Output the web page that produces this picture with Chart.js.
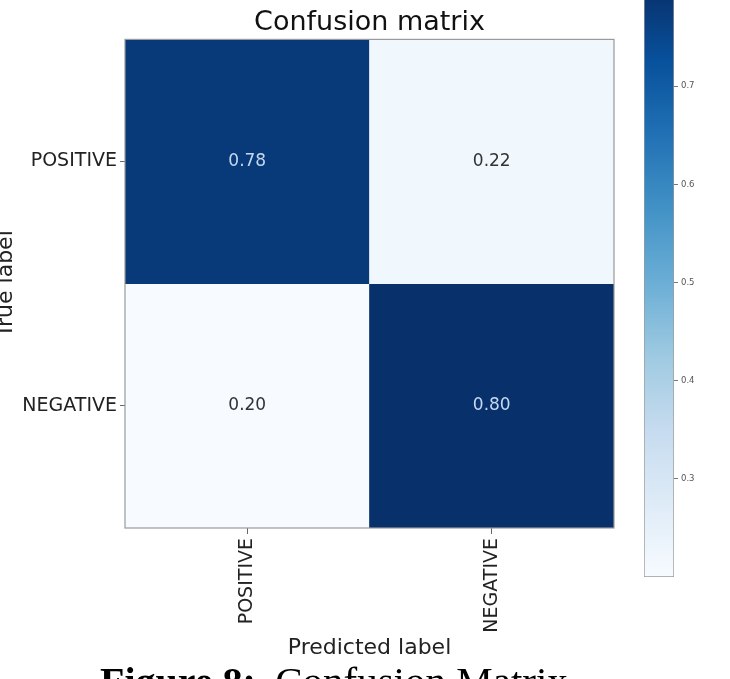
<!DOCTYPE html>
<html><head><meta charset="utf-8">
<script src="https://cdn.jsdelivr.net/npm/chart.js@4.4.1/dist/chart.umd.min.js"></script>
<style>
html,body{margin:0;padding:0;background:#fff;}
#fig{position:relative;width:730px;height:679px;overflow:hidden;background:#fff;}
#wrapM{position:absolute;left:0;top:0;width:630px;height:679px;}
#wrapC{position:absolute;left:640px;top:-20px;width:90px;height:605px;}
#caption{position:absolute;left:100px;top:661px;font-family:"Liberation Serif","Times New Roman",serif;font-size:40px;line-height:40px;white-space:nowrap;color:#000;}
#caption .rest{font-size:41px;margin-left:9px;}
</style></head><body>
<div id="fig">
<div id="wrapM"><canvas id="matrix"></canvas></div>
<div id="wrapC"><canvas id="cbar"></canvas></div>
<div id="caption"><b>Figure 8:</b><span class="rest"> Confusion Matrix</span></div>
</div>
<script>
// ---- data ----
const classes = ['POSITIVE', 'NEGATIVE'];
const rowPositive = [0.78, 0.22];   // true POSITIVE row
const rowNegative = [0.20, 0.80];   // true NEGATIVE row
const colorbarTicks = [0.3, 0.4, 0.5, 0.6, 0.7];
const colorMin = 0.20;
const colorMax = 0.80;

// ---- style ----
const blues = ['#f7fbff','#deebf7','#c6dbef','#9ecae1','#6baed6','#4292c6','#2171b5','#08519c','#08306b'];
Chart.defaults.font.family = '"DejaVu Sans", sans-serif';

function hexToRgb(h){ const n = parseInt(h.slice(1),16); return [(n>>16)&255,(n>>8)&255,n&255]; }
function cmap(t){
  t = Math.max(0, Math.min(1, t));
  const n = blues.length - 1;
  const i = Math.min(Math.floor(t*n), n-1);
  const f = t*n - i;
  const a = hexToRgb(blues[i]), b = hexToRgb(blues[i+1]);
  const c = a.map((v,k)=>Math.round(v + (b[k]-v)*f));
  return 'rgb(' + c.join(',') + ')';
}
function colorFor(v){ return cmap((v - colorMin)/(colorMax - colorMin)); }

const rows = [rowPositive, rowNegative];
const nRows = classes.length;

const matrixDatasets = rows.map((vals, i) => ({
  label: classes[i],
  data: vals.map(() => [nRows-1-i, nRows-i]),
  values: vals,
  backgroundColor: vals.map(colorFor),
  borderWidth: 0,
  grouped: false,
  barPercentage: 1,
  categoryPercentage: 1
}));

const cellPlugin = {
  id: 'cells',
  afterDatasetsDraw(chart){
    const ctx = chart.ctx;
    const {left, top, right, bottom} = chart.chartArea;
    ctx.save();
    ctx.font = '17px "DejaVu Sans", sans-serif';
    ctx.textAlign = 'center';
    ctx.textBaseline = 'middle';
    chart.data.datasets.forEach((ds, i) => {
      const meta = chart.getDatasetMeta(i);
      meta.data.forEach((el, j) => {
        const v = ds.values[j];
        ctx.fillStyle = v > colorMax/2 ? '#c4d8f1' : '#333333';
        ctx.fillText(v.toFixed(2), el.x, (el.y + el.base)/2);
      });
    });
    ctx.strokeStyle = '#9a9a9a';
    ctx.lineWidth = 1.2;
    ctx.strokeRect(left, top, right-left, bottom-top);
    ctx.restore();
  }
};

new Chart(document.getElementById('matrix'), {
  type: 'bar',
  data: { labels: classes, datasets: matrixDatasets },
  options: {
    responsive: true,
    maintainAspectRatio: false,
    animation: false,
    layout: { padding: { left: 0, right: 16, top: 0, bottom: 0 } },
    plugins: {
      legend: { display: false },
      tooltip: { enabled: false },
      title: {
        display: true, text: 'Confusion matrix', fullSize: false,
        color: '#111', font: { size: 27, weight: 'normal', lineHeight: 1.2 },
        padding: { top: 7, bottom: 0 }
      }
    },
    scales: {
      x: {
        type: 'category',
        offset: true,
        grid: { offset: false, drawOnChartArea: false, tickLength: 6, color: '#666' },
        border: { display: false },
        ticks: { minRotation: 90, maxRotation: 90, autoSkip: false, padding: 4, color: '#222', font: { size: 19 } },
        title: { display: true, text: 'Predicted label', color: '#222', font: { size: 22 }, padding: { top: 0, bottom: 17.4 } },
        afterFit: s => { s.height = 151; }
      },
      y: {
        type: 'linear',
        min: 0, max: nRows,
        afterBuildTicks: s => { s.ticks = classes.map((c, i) => ({ value: nRows-1-i+0.5 })); },
        ticks: {
          padding: 3, color: '#222', font: { size: 19 },
          callback: v => classes[nRows-1-Math.floor(v)]
        },
        grid: { drawOnChartArea: false, tickLength: 5, color: '#666' },
        border: { display: false },
        title: { display: true, text: 'True label', color: '#222', font: { size: 22, lineHeight: 0.58 }, padding: 0 },
        afterFit: s => { s.width = 125; }
      }
    }
  },
  plugins: [cellPlugin]
});

new Chart(document.getElementById('cbar'), {
  type: 'bar',
  data: {
    labels: [''],
    datasets: [{
      data: [[colorMin, colorMax]],
      backgroundColor: c => {
        const chart = c.chart;
        if (!chart.chartArea) return blues[4];
        const ys = chart.scales.y;
        const g = chart.ctx.createLinearGradient(0, ys.getPixelForValue(colorMin), 0, ys.getPixelForValue(colorMax));
        blues.forEach((col, k) => g.addColorStop(k/(blues.length-1), col));
        return g;
      },
      borderColor: '#9a9a9a',
      borderWidth: 1,
      borderSkipped: false,
      barPercentage: 1,
      categoryPercentage: 1
    }]
  },
  options: {
    responsive: true,
    maintainAspectRatio: false,
    animation: false,
    layout: { padding: { left: 4, right: 0, top: 4.5, bottom: 4 } },
    plugins: { legend: { display: false }, tooltip: { enabled: false } },
    scales: {
      x: { display: false },
      y: {
        position: 'right',
        min: colorMin, max: colorMax,
        afterBuildTicks: s => { s.ticks = colorbarTicks.map(v => ({ value: v })); },
        ticks: { padding: 3, color: '#555', font: { size: 8.5 }, callback: v => v.toFixed(1) },
        grid: { drawOnChartArea: false, tickLength: 4, color: '#777' },
        border: { display: false },
        afterFit: s => { s.width = 56; }
      }
    }
  }
});
</script>
</body></html>
